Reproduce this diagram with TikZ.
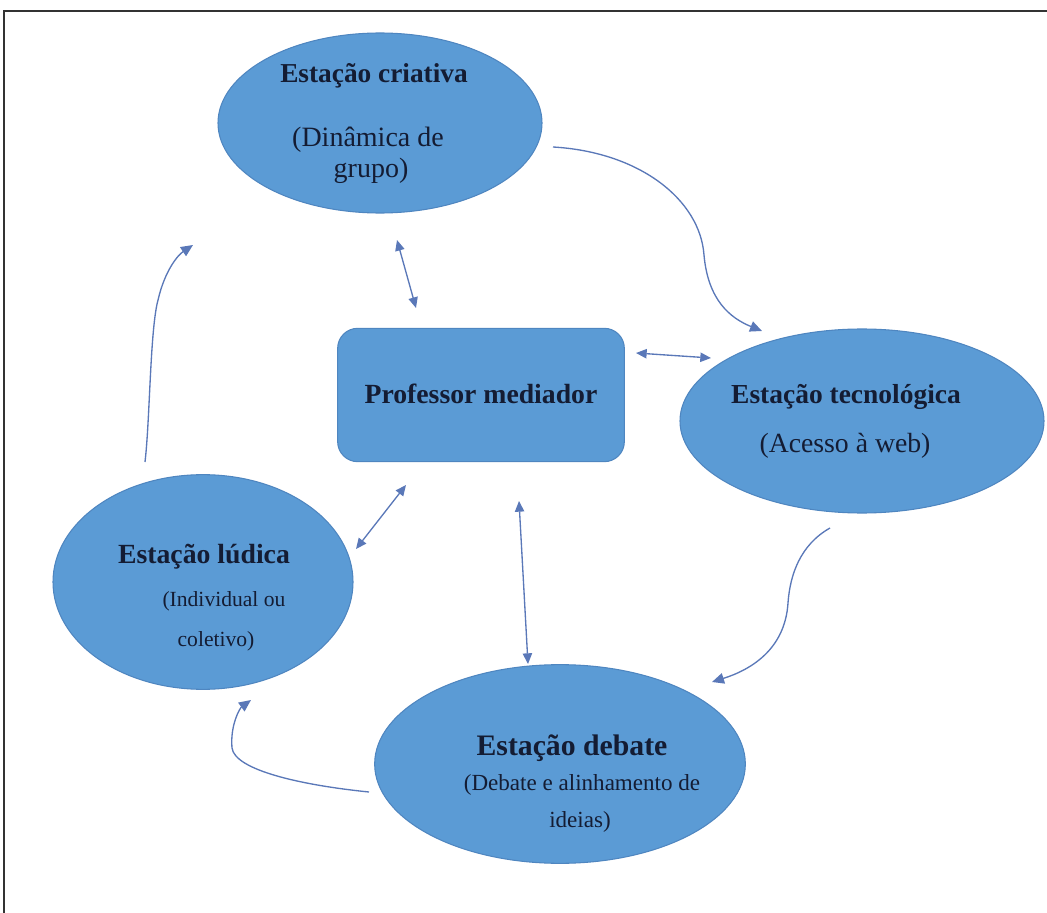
\documentclass[tikz,border=0pt]{standalone}
\usepackage{fontspec}
\setmainfont{Liberation Serif}
\usetikzlibrary{shapes.geometric,arrows.meta}
\definecolor{fillblue}{HTML}{5B9BD5}
\definecolor{edgeblue}{HTML}{4F86C0}
\definecolor{arrowblue}{HTML}{5A78B8}
\definecolor{txt}{HTML}{141C33}
\tikzset{
  station/.style={ellipse,fill=fillblue,draw=edgeblue,line width=0.8pt,inner sep=0pt},
  flow/.style={draw=arrowblue,line width=1pt,-{Triangle[length=9pt,width=8pt]}},
  link/.style={draw=arrowblue,line width=1pt,{Triangle[length=8pt,width=7pt]}-{Triangle[length=8pt,width=7pt]}},
  lbl/.style={anchor=base,inner sep=0pt,text=txt}
}
\begin{document}
\begin{tikzpicture}[x=0.75pt,y=-0.75pt]
\useasboundingbox (0,0) rectangle (1047,913);
\draw[line width=0.8pt,black!80] (4,960) -- (4,11) -- (1100,11);
% stations
\node[station,minimum width=243pt,minimum height=135pt] (cri) at (380,123) {};
\node[station,minimum width=273pt,minimum height=138pt] (tec) at (862,421) {};
\node[station,minimum width=225pt,minimum height=161pt] (lud) at (203,582) {};
\node[station,minimum width=278pt,minimum height=149pt] (deb) at (560,764) {};
\node[fill=fillblue,draw=edgeblue,line width=0.8pt,rounded corners=15pt,minimum width=215pt,minimum height=100pt] (prof) at (481,395) {};
% texts
\node[lbl,font=\fontsize{20.5}{24}\selectfont\bfseries] (t1) at (374,83) {Estação criativa};
\node[lbl,font=\fontsize{21}{24}\selectfont] (t2a) at (368,147) {(Dinâmica de};
\node[lbl,font=\fontsize{21}{24}\selectfont] (t2b) at (371,178) {grupo)};
\node[lbl,font=\fontsize{20.8}{24}\selectfont\bfseries] (t3) at (481,403) {Professor mediador};
\node[lbl,font=\fontsize{20.6}{24}\selectfont\bfseries] (t4) at (846,403) {Estação tecnológica};
\node[lbl,font=\fontsize{20.8}{24}\selectfont] (t5) at (845,452) {(Acesso à web)};
\node[lbl,font=\fontsize{20.8}{24}\selectfont\bfseries] (t6) at (204,563) {Estação lúdica};
\node[lbl,font=\fontsize{16.2}{20}\selectfont] (t7a) at (224,606) {(Individual ou};
\node[lbl,font=\fontsize{16.2}{20}\selectfont] (t7b) at (216,646) {coletivo)};
\node[lbl,font=\fontsize{22.3}{26}\selectfont\bfseries] (t8) at (572,755) {Estação debate};
\node[lbl,font=\fontsize{17.3}{20}\selectfont] (t9a) at (582,790) {(Debate e alinhamento de};
\node[lbl,font=\fontsize{17.3}{20}\selectfont] (t9b) at (580,827) {ideias)};
% free ends
\coordinate (a1s) at (553,147); \coordinate (a1e) at (762,331);
\coordinate (a2s) at (830,528); \coordinate (a2e) at (712,682);
\coordinate (a3s) at (369,792); \coordinate (a3e) at (251,700);
\coordinate (a4s) at (145,462); \coordinate (a4e) at (193,245);
\coordinate (b1s) at (397,240); \coordinate (b1e) at (416,308);
\coordinate (b2s) at (636,353); \coordinate (b2e) at (711,358);
\coordinate (b3s) at (406,485); \coordinate (b3e) at (356,549);
\coordinate (b4s) at (519,501); \coordinate (b4e) at (528,664);
% cycle arrows
\draw[flow] (a1s) .. controls (640,152) and (700,200) .. (704,255) .. controls (708,300) and (730,318) .. (a1e);
\draw[flow] (a2s) .. controls (800,545) and (790,575) .. (788,603) .. controls (785,650) and (750,670) .. (a2e);
\draw[flow] (a3s) .. controls (300,785) and (235,770) .. (232,748) .. controls (230,725) and (240,708) .. (a3e);
\draw[flow] (a4s) .. controls (150,420) and (150,330) .. (158,300) .. controls (165,270) and (178,255) .. (a4e);
% links with mediator
\draw[link] (b1s) -- (b1e);
\draw[link] (b2s) -- (b2e);
\draw[link] (b3s) -- (b3e);
\draw[link] (b4s) -- (b4e);
\end{tikzpicture}
\end{document}
